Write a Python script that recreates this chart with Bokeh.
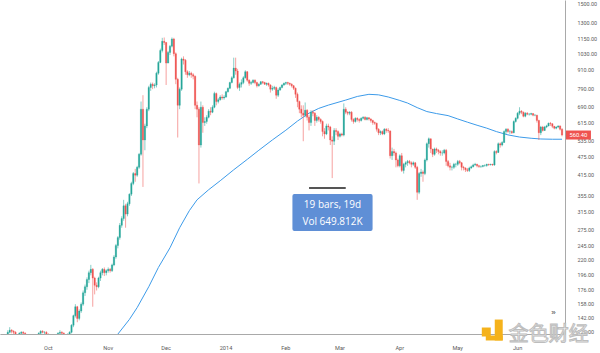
import math
import pandas as pd
from bokeh.plotting import figure
from bokeh.models import (Range1d, FixedTicker, NumeralTickFormatter, ColumnDataSource, Label)
from bokeh.core.properties import value
from bokeh.embed import file_html
from bokeh.resources import INLINE

# ---------------- data (daily candles, BTC/USD) ----------------
start_date = "2013-09-06"
first_open = 120.0

closes = [
    # Sep 6-30
    121, 122, 121, 124, 128, 130, 129, 128, 125, 124, 127, 128, 127, 124, 123, 122, 122, 121, 122, 123, 127, 129, 128, 128, 126,
    # Oct
    125, 118, 120, 122, 123, 127, 128, 127, 125, 124, 126, 128, 135, 145, 155, 142, 150, 158, 172, 180, 190, 200, 205, 192, 182, 180, 192, 200, 205, 200, 203,
    # Nov
    205, 203, 212, 225, 245, 260, 285, 300, 330, 310, 335, 360, 390, 420, 415, 440, 485, 680, 540, 600, 680, 800, 820, 810, 815, 890, 965, 1055, 1130, 1120,
    # Dec
    960, 1040, 1090, 1150, 1030, 850, 700, 790, 990, 980, 900, 880, 890, 880, 870, 700, 680, 520, 690, 615, 620, 640, 670, 665, 690, 765, 720, 730, 745, 740, 745,
    # Jan
    775, 795, 830, 860, 925, 905, 800, 820, 830, 860, 900, 845, 825, 830, 845, 830, 810, 820, 835, 830, 820, 825, 815, 790, 795, 800, 755, 785, 800, 815, 825,
    # Feb
    830, 825, 820, 810, 795, 760, 720, 680, 660, 650, 675, 640, 615, 665, 660, 625, 640, 630, 620, 575, 565, 600, 595, 540, 535, 580, 575, 555,
    # Mar
    565, 560, 680, 665, 660, 665, 630, 620, 635, 630, 625, 635, 640, 630, 638, 632, 625, 615, 612, 585, 570, 575, 565, 585, 580, 578, 480, 495, 490, 465, 445,
    # Apr
    480, 430, 450, 455, 460, 455, 450, 455, 440, 365, 420, 425, 420, 465, 525, 545, 505, 485, 505, 500, 495, 490, 490, 500, 460, 445, 440, 440, 450, 450,
    # May
    460, 455, 440, 438, 432, 430, 438, 442, 448, 450, 445, 443, 443, 446, 446, 450, 449, 450, 448, 495, 492, 525, 520, 530, 575, 585, 575, 575, 570, 620, 635,
    # Jun 1-24
    660, 670, 665, 645, 660, 655, 655, 658, 650, 650, 625, 570, 595, 580, 595, 600, 612, 610, 598, 590, 595, 600, 585, 560.4,
]

highs = [
    123, 124, 123, 125, 130, 133, 131, 130, 129, 126, 128, 129, 129, 128, 125, 124, 123, 123, 124, 124, 128, 130, 130, 129, 129,
    127, 126, 122, 124, 124, 128, 130, 129, 128, 126, 127, 129, 136, 146, 158, 156, 152, 160, 175, 183, 193, 203, 212, 207, 194, 186, 194, 203, 207, 208, 205,
    208, 207, 214, 228, 248, 263, 290, 305, 345, 335, 340, 362, 395, 425, 435, 445, 490, 720, 755, 610, 690, 810, 830, 830, 825, 900, 975, 1070, 1160, 1163,
    1125, 1050, 1100, 1163, 1160, 1040, 860, 800, 1000, 1010, 990, 910, 905, 900, 890, 875, 720, 690, 720, 700, 640, 650, 680, 690, 700, 775, 770, 740, 755, 760, 755,
    780, 800, 835, 870, 1000, 1000, 920, 830, 850, 870, 910, 905, 850, 840, 850, 850, 835, 825, 840, 840, 835, 830, 830, 820, 810, 810, 805, 795, 805, 820, 830,
    835, 835, 830, 825, 815, 800, 770, 725, 700, 700, 715, 680, 650, 675, 675, 665, 650, 645, 635, 625, 590, 610, 610, 600, 555, 590, 590, 580,
    570, 570, 710, 690, 670, 670, 670, 635, 640, 640, 635, 640, 645, 645, 642, 640, 635, 628, 620, 615, 590, 580, 580, 590, 590, 590, 580, 510, 505, 495, 470,
    485, 490, 455, 460, 465, 465, 460, 460, 458, 445, 425, 435, 430, 470, 530, 550, 545, 505, 510, 510, 505, 500, 500, 505, 505, 465, 455, 445, 455, 455,
    465, 465, 458, 445, 440, 438, 442, 446, 452, 455, 452, 448, 446, 448, 450, 452, 452, 452, 452, 500, 500, 530, 530, 535, 580, 590, 590, 582, 580, 625, 640,
    665, 690, 675, 668, 665, 665, 660, 662, 660, 655, 652, 628, 600, 600, 600, 605, 615, 618, 612, 600, 598, 602, 602, 590,
]

lows = [
    118, 120, 119, 120, 123, 127, 127, 126, 124, 122, 123, 125, 125, 123, 121, 120, 120, 119, 120, 121, 122, 126, 127, 126, 125,
    123, 100, 110, 118, 120, 122, 125, 125, 124, 122, 123, 125, 127, 133, 143, 138, 140, 148, 156, 168, 176, 185, 196, 155, 170, 175, 178, 188, 196, 195, 196,
    200, 200, 201, 210, 222, 240, 256, 280, 295, 280, 305, 330, 355, 385, 395, 410, 435, 480, 380, 500, 590, 670, 780, 790, 795, 800, 880, 960, 1040, 1100,
    815, 960, 1020, 1080, 1010, 820, 550, 680, 780, 950, 880, 860, 870, 860, 850, 680, 640, 390, 510, 570, 600, 610, 635, 650, 660, 685, 700, 710, 725, 730, 730,
    740, 770, 790, 825, 855, 880, 790, 780, 800, 820, 855, 835, 810, 815, 825, 820, 800, 805, 815, 820, 815, 810, 805, 770, 780, 785, 735, 745, 780, 795, 810,
    815, 815, 810, 800, 785, 740, 690, 660, 640, 535, 640, 625, 580, 600, 645, 600, 615, 620, 610, 555, 545, 560, 580, 520, 406, 520, 560, 540,
    550, 555, 555, 655, 650, 650, 620, 610, 615, 620, 615, 620, 630, 625, 625, 625, 615, 605, 605, 575, 560, 560, 560, 560, 570, 570, 470, 465, 480, 440, 440,
    440, 425, 420, 440, 445, 450, 440, 445, 435, 345, 360, 410, 395, 415, 460, 510, 490, 475, 480, 490, 485, 480, 480, 485, 445, 440, 430, 430, 435, 440,
    445, 450, 430, 430, 425, 425, 425, 435, 440, 445, 440, 438, 438, 440, 442, 442, 445, 446, 445, 445, 485, 490, 510, 515, 528, 565, 570, 565, 565, 568, 615,
    630, 650, 655, 640, 640, 650, 648, 650, 645, 645, 615, 540, 560, 575, 578, 590, 598, 600, 590, 585, 585, 590, 580, 555,
]

# moving average line (blue), read at a set of dates
ma_dates = ["2013-11-03", "2013-11-05", "2013-11-12", "2013-11-16", "2013-11-22", "2013-11-27",
            "2013-12-03", "2013-12-08", "2013-12-13", "2013-12-17", "2013-12-23", "2013-12-29",
            "2014-01-05", "2014-01-12", "2014-01-18", "2014-01-25", "2014-02-01", "2014-02-07",
            "2014-02-13", "2014-02-18", "2014-02-23", "2014-03-04", "2014-03-10", "2014-03-16",
            "2014-03-21", "2014-03-26", "2014-04-01", "2014-04-05", "2014-04-10", "2014-04-15",
            "2014-04-20", "2014-04-26", "2014-05-01", "2014-05-06", "2014-05-11", "2014-05-16",
            "2014-05-21", "2014-05-27", "2014-06-02", "2014-06-08", "2014-06-13", "2014-06-19",
            "2014-06-24"]
ma_values = [118, 124, 141, 154, 180, 208,
             241, 280, 318, 345, 372, 398,
             432, 467, 500, 540, 581, 622,
             660, 684, 701, 728, 748, 760,
             757, 745, 726, 712, 688, 668,
             658, 648, 632, 617, 603, 590,
             575, 561, 552, 547, 544, 543,
             543]

price_ticks = [128, 142, 158, 176, 196, 220, 245, 275, 315, 355, 415, 475, 535,
               615, 690, 790, 910, 1030, 1150, 1300, 1500]
month_ticks = ["2013-10-01", "2013-11-01", "2013-12-01", "2014-01-01", "2014-02-01",
               "2014-03-01", "2014-04-01", "2014-05-01", "2014-06-01"]
month_labels = ["Oct", "Nov", "Dec", "2014", "Feb", "Mar", "Apr", "May", "Jun"]

last_price_text = "560.40"
measure_text = "19 bars, 19d\nVol 649.812K"
measure_start, measure_end, measure_price = "2014-02-13", "2014-03-04", 377
watermark_text = "金色财经"

# ---------------- build ----------------
UP, DOWN = "#26a69a", "#ef5350"
dates = pd.date_range(start_date, periods=len(closes), freq="D")
opens = [first_open] + closes[:-1]
colors = [UP if c >= o else DOWN for o, c in zip(opens, closes)]
src = ColumnDataSource(dict(
    date=dates, open=opens, close=closes, high=highs, low=lows,
    top=[max(o, c) for o, c in zip(opens, closes)],
    bottom=[min(o, c) for o, c in zip(opens, closes)],
    color=colors,
))

FRAME_W, FRAME_H = 567, 335
x_start = pd.Timestamp("2013-09-06 05:30")
x_end = pd.Timestamp("2014-06-25 19:10")
y_lo, y_hi = 125.9, 1534.0


def px_x(px):
    """frame pixel -> x data value (for overlay decorations only)"""
    return x_start + (x_end - x_start) * (px / FRAME_W)


def px_y(py):
    """frame pixel (from top) -> y data value on the log scale"""
    return math.exp(math.log(y_hi) - py / FRAME_H * (math.log(y_hi) - math.log(y_lo)))


p = figure(width=600, height=353, x_axis_type="datetime", y_axis_type="log",
           y_axis_location="right", output_backend="svg", toolbar_location=None,
           x_range=Range1d(x_start, x_end), y_range=Range1d(y_lo, y_hi),
           min_border_left=0, min_border_top=0, min_border_right=33, min_border_bottom=18)
p.outline_line_color = None
p.xgrid.visible = False
p.ygrid.visible = False
p.background_fill_color = "white"
p.border_fill_color = "white"

# moving average
p.line(pd.to_datetime(ma_dates), ma_values, line_color="#3d9be9", line_width=1)

# candles
day_ms = 24 * 60 * 60 * 1000
p.segment(x0="date", y0="low", x1="date", y1="high", source=src,
          line_color="color", line_alpha=0.55, line_width=1)
p.vbar(x="date", width=0.72 * day_ms, top="top", bottom="bottom", source=src,
       fill_color="color", line_color="color", line_width=0.3)

# measure tool bar
p.segment(x0=[pd.Timestamp(measure_start)], y0=[measure_price],
          x1=[pd.Timestamp(measure_end)], y1=[measure_price],
          line_color="#555555", line_width=2.2)

# axes
AX = "#a9a9a9"
p.yaxis.ticker = FixedTicker(ticks=price_ticks)
p.yaxis.formatter = NumeralTickFormatter(format="0.00")
p.yaxis.axis_line_color = AX
p.yaxis.major_tick_line_color = None
p.yaxis.minor_tick_line_color = None
p.yaxis.major_label_text_font_size = "5.4px"
p.yaxis.major_label_text_color = "#5a5a5a"
p.yaxis.major_label_text_font = "Roboto"
p.yaxis.major_label_standoff = 6

tick_ms = [pd.Timestamp(d).value // 10**6 for d in month_ticks]
p.xaxis.ticker = FixedTicker(ticks=tick_ms)
p.xaxis.major_label_overrides = {t: lab for t, lab in zip(tick_ms, month_labels)}
p.xaxis.axis_line_color = AX
p.xaxis.major_tick_line_color = None
p.xaxis.minor_tick_line_color = None
p.xaxis.major_label_text_font_size = "5.6px"
p.xaxis.major_label_text_color = "#5a5a5a"
p.xaxis.major_label_text_font = "Roboto"
p.xaxis.major_label_standoff = 4

# last price tag on the price axis (overlay level -> not clipped to the frame)
p.rect(x=[px_x(580)], y=[closes[-1]], width=25, height=9,
       width_units="screen", height_units="screen",
       fill_color=DOWN, line_color=None, level="overlay")
p.text(x=[px_x(580)], y=[closes[-1]], text=[last_price_text],
       text_font=value("Roboto"), text_font_size="5.8px", text_color="white",
       text_align="center", text_baseline="middle", level="overlay")

# measure tooltip
p.add_layout(Label(x=332, x_units="screen", y=122, y_units="screen",
                   text=measure_text, text_font_size="10px", text_font="Open Sans",
                   text_color="white", text_align="center", text_baseline="middle",
                   background_fill_color="#5f8fd6",
                   padding=dict(left=10, right=10, top=3, bottom=3), border_radius=2))

# watermark (site logo)
logo_boxes = [(483, 492, 328, 337), (496, 504, 320, 341), (487, 504, 336, 341)]
p.quad(left=[px_x(b[0]) for b in logo_boxes], right=[px_x(b[1]) for b in logo_boxes],
       top=[px_y(b[2]) for b in logo_boxes], bottom=[px_y(b[3]) for b in logo_boxes],
       fill_color="#f5b21b", line_color=None, level="overlay")
wm_kw = dict(x=[px_x(510)], y=[px_y(333)], text=[watermark_text],
             text_font=value("Noto Sans CJK SC"), text_font_size="20px",
             text_align="left", text_baseline="middle", level="overlay")
try:
    p.text(text_color="#f4f4f4", text_outline_color="#bdbdbd", **wm_kw)
except Exception:
    p.text(text_color="#d2d2d2", **wm_kw)
p.add_layout(Label(x=553, x_units="screen", y=22, y_units="screen", text="»",
                   text_font_size="8px", text_color="#444444",
                   text_align="center", text_baseline="middle"))

open("out.html", "w").write(file_html(p, INLINE))
